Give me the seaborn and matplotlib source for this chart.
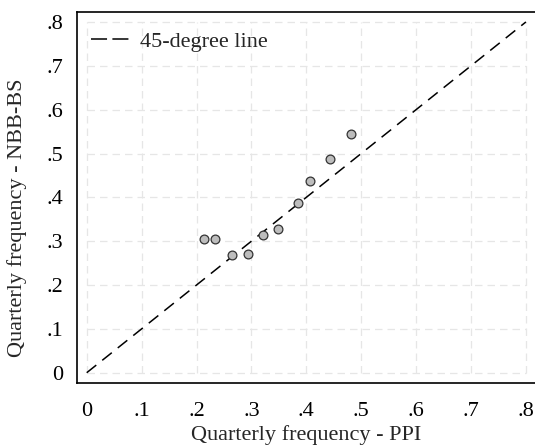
import matplotlib
matplotlib.use("Agg")
import matplotlib.pyplot as plt
import seaborn as sns
import numpy as np
import pandas as pd

# data
ppi = [0.214, 0.234, 0.265, 0.293, 0.321, 0.349, 0.384, 0.406, 0.443, 0.481]
nbb_bs = [0.304, 0.305, 0.268, 0.270, 0.314, 0.328, 0.387, 0.437, 0.488, 0.545]
line_ends = [0.0, 0.8]
ticks = [0, 0.1, 0.2, 0.3, 0.4, 0.5, 0.6, 0.7, 0.8]
tick_labels = ["0", ".1", ".2", ".3", ".4", ".5", ".6", ".7", ".8"]

sns.set_theme(style="white")
plt.rcParams['font.family'] = ['Liberation Serif', 'DejaVu Serif']

df = pd.DataFrame({"ppi": ppi, "nbb": nbb_bs})
diag = pd.DataFrame({"x": line_ends, "y": line_ends})

fig = plt.figure(figsize=(5.35, 4.47), dpi=100)
ax = fig.add_axes([0.1434, 0.1438, 0.8566, 0.8294])

# stata-like dashed grid, only within the tick range
for t in ticks:
    ax.plot([t, t], [0, 0.8], color="#e6e6e6", lw=0.9, ls=(0, (6, 4)), zorder=0)
    ax.plot([0, 0.8], [t, t], color="#e6e6e6", lw=0.9, ls=(0, (6, 4)), zorder=0)

sns.lineplot(data=diag, x="x", y="y", ax=ax, color="black", lw=1.1,
             dashes=False, label="45-degree line", zorder=2)
ax.lines[-1].set_linestyle((0, (8, 5)))
sns.scatterplot(data=df, x="ppi", y="nbb", ax=ax, s=40, color="#bdbdbd",
                edgecolor="#333333", linewidth=0.9, zorder=3, legend=False)

ax.set_xlim(-0.0182, 0.8166)
ax.set_ylim(-0.0228, 0.8228)
ax.set_xticks(ticks)
ax.set_xticklabels(tick_labels)
ax.set_yticks(ticks)
ax.set_yticklabels(tick_labels)
ax.tick_params(axis="both", length=0, labelsize=16, colors="black")
ax.tick_params(axis="x", pad=14)
ax.tick_params(axis="y", pad=10)
ax.set_xlabel("Quarterly frequency - PPI", fontsize=16, labelpad=3)
ax.set_ylabel("Quarterly frequency - NBB-BS", fontsize=16)
ax.yaxis.set_label_coords(-0.108, 0.445)

for side in ["left", "bottom", "top"]:
    ax.spines[side].set_color("black")
    ax.spines[side].set_linewidth(1.2)
ax.spines["right"].set_visible(False)

leg = ax.legend(loc="upper left", bbox_to_anchor=(-0.003, 0.99), frameon=False,
                fontsize=16, handlelength=1.8, borderaxespad=0.3,
                handletextpad=0.4)
leg.get_lines()[0].set_linestyle((0, (10.5, 3.5)))

fig.savefig("out.png", dpi=100)
